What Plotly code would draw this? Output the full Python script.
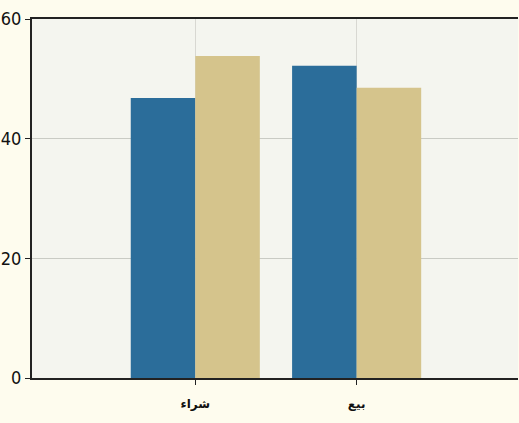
import plotly.graph_objects as go

categories = ["شراء", "بيع"]
series_a = [46.8, 52.2]
series_b = [53.8, 48.5]
y_ticks = [0, 20, 40, 60]

fig = go.Figure()
fig.add_trace(go.Bar(x=[0, 1], y=series_a, marker=dict(color="#2b6d9a", line=dict(width=0)), name="A"))
fig.add_trace(go.Bar(x=[0, 1], y=series_b, marker=dict(color="#d5c48c", line=dict(width=0)), name="B"))

fig.update_layout(
    width=519, height=423,
    margin=dict(l=32, r=1, t=19, b=45),
    paper_bgcolor="#fefcee",
    plot_bgcolor="#f4f5ef",
    barmode="group",
    bargap=0.2,
    bargroupgap=0,
    showlegend=False,
    xaxis=dict(
        range=[-1.012, 2.0],
        tickvals=[0, 1],
        ticktext=categories,
        showgrid=True, gridcolor="#d8d8d2", gridwidth=1,
        showline=True, linecolor="#222222", linewidth=2, mirror=True,
        ticks="outside", ticklen=5, tickcolor="#222222",
        ticklabelstandoff=9,
        tickfont=dict(family="DejaVu Sans", size=12, color="#111111", weight="bold"),
        zeroline=False,
    ),
    yaxis=dict(
        range=[0, 60],
        tickvals=y_ticks,
        showgrid=True, gridcolor="#c9cbc4", gridwidth=1,
        showline=True, linecolor="#222222", linewidth=2,
        ticks="outside", ticklen=5, tickcolor="#222222",
        tickfont=dict(family="DejaVu Sans Condensed", size=18, color="#111111"),
        zeroline=False,
    ),
)
fig.write_html(
    "out.html",
    config={"displayModeBar": False},
    post_script="document.body.style.margin='0';document.body.style.background='#fefcee';document.body.style.overflow='hidden';",
)
